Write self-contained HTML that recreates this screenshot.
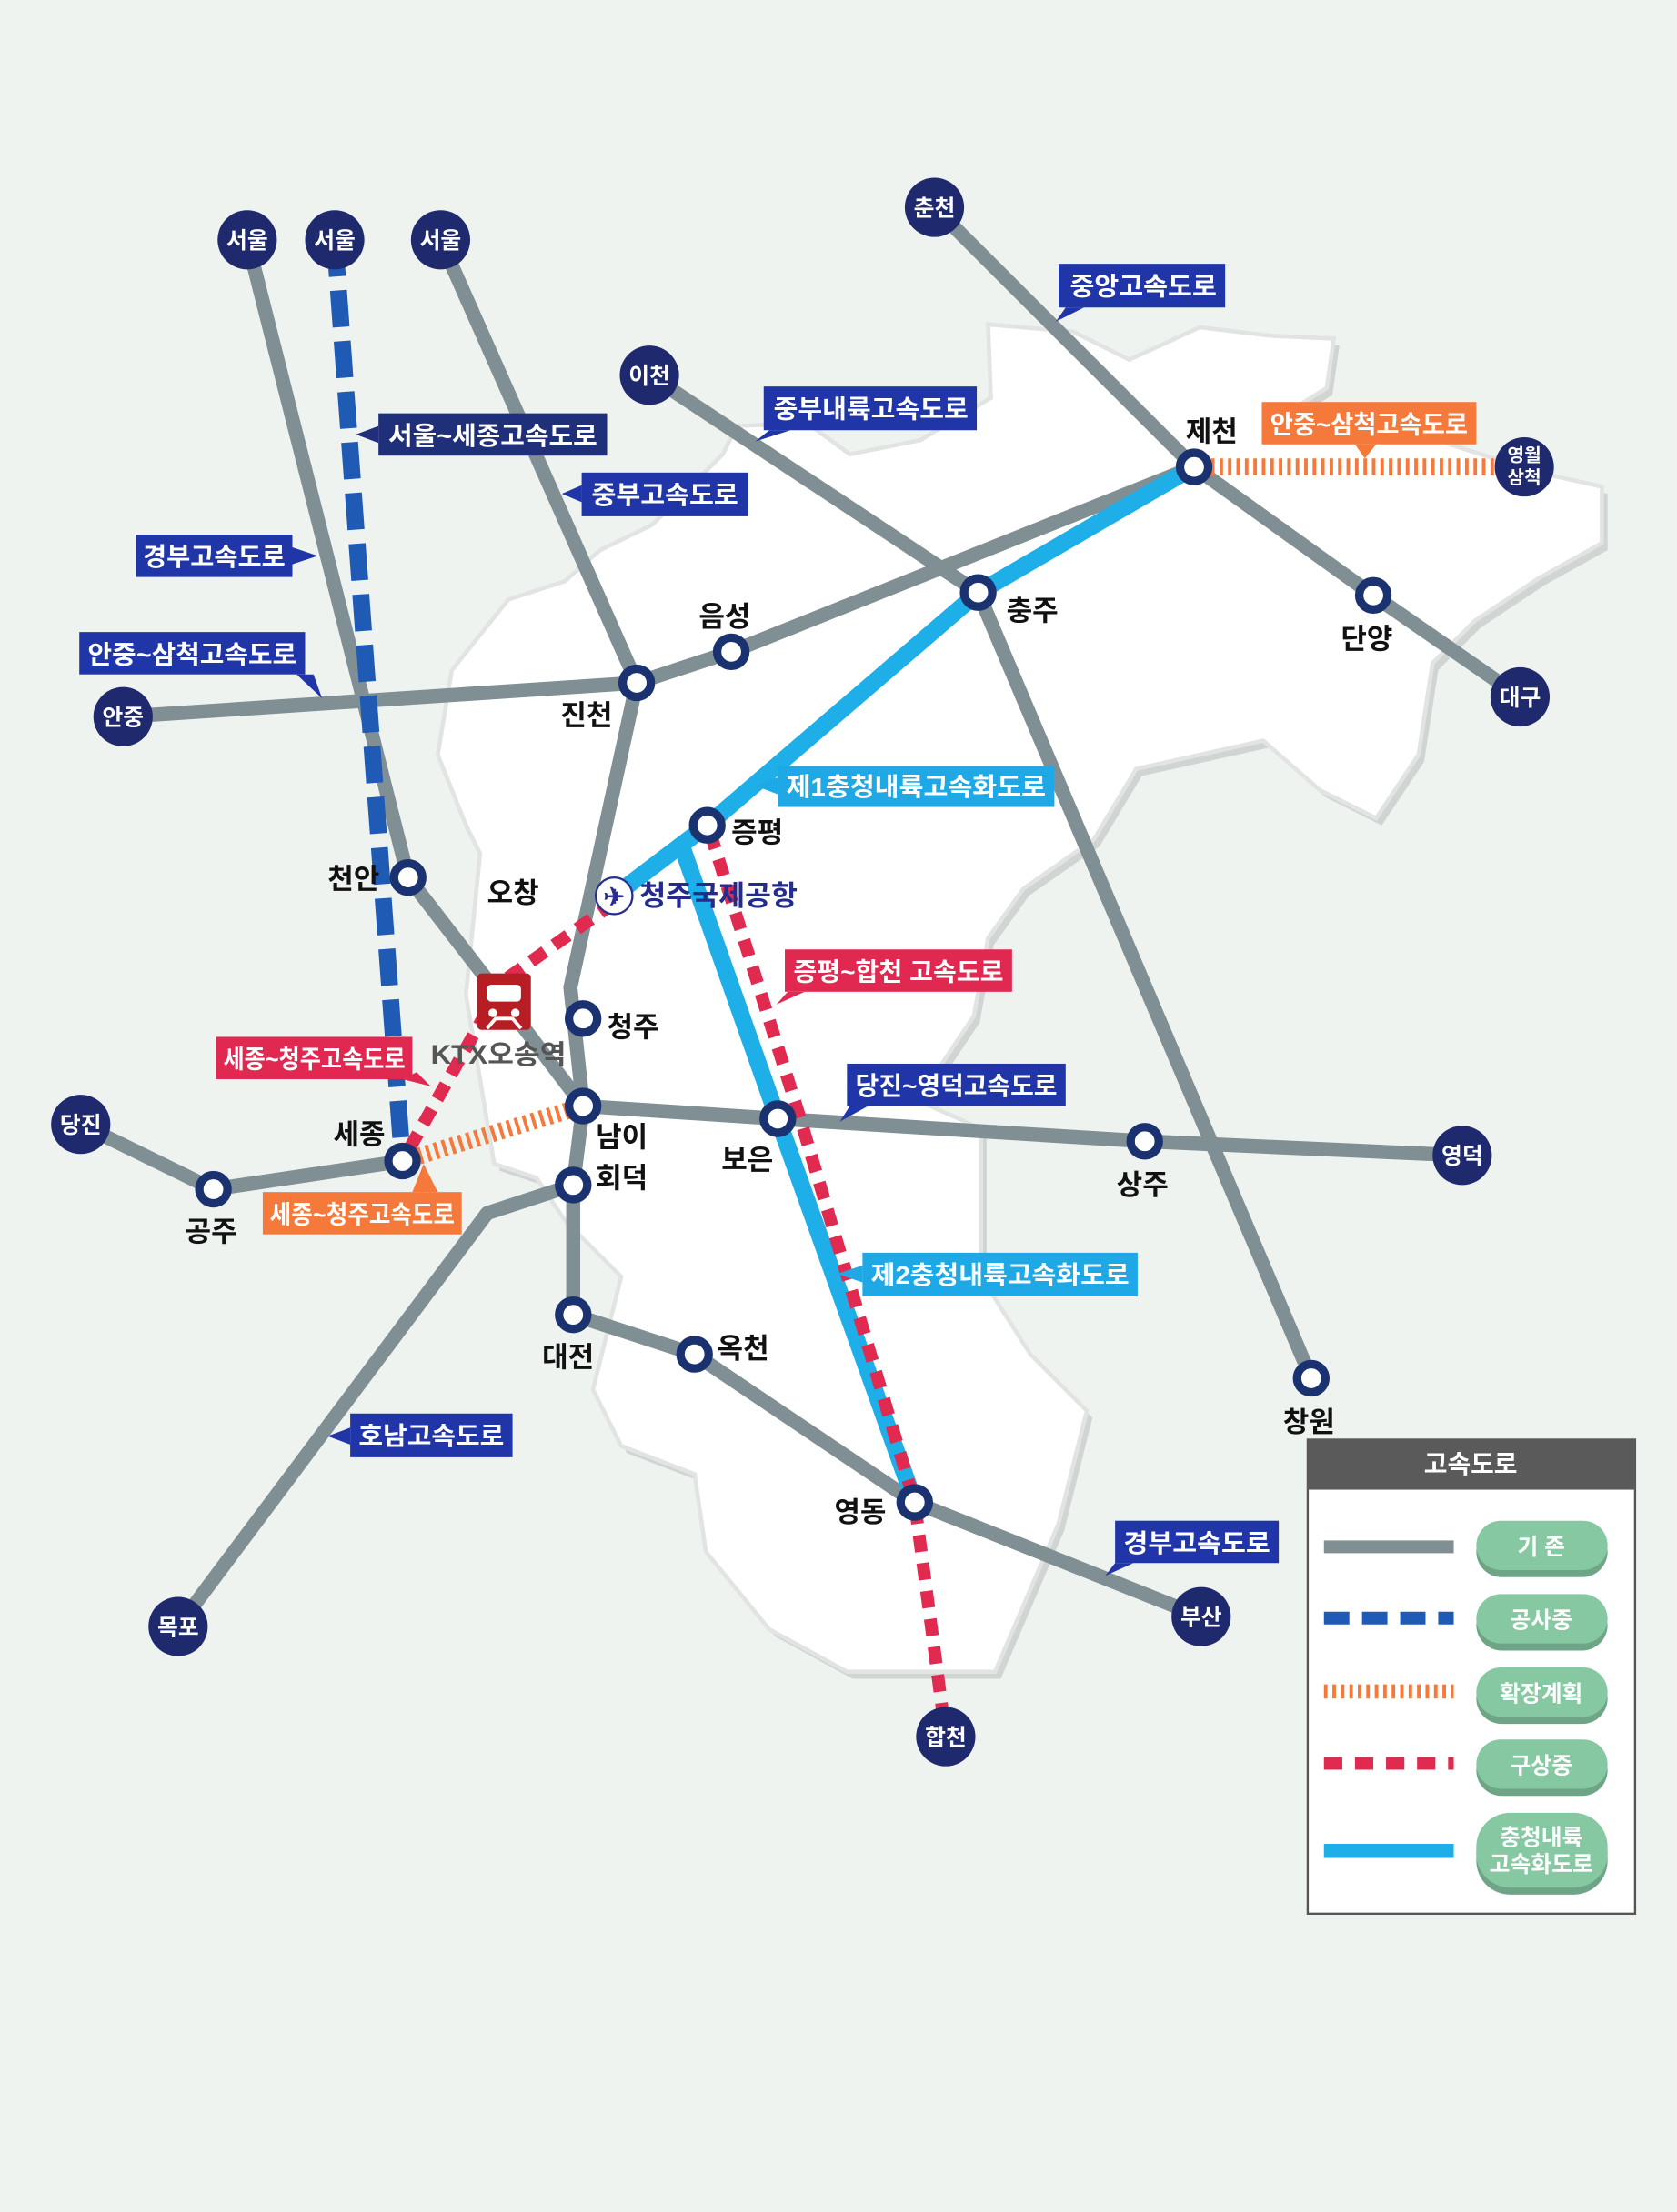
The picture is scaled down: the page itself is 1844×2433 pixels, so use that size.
<!DOCTYPE html>
<html><head><meta charset="utf-8"><style>
html,body{margin:0;padding:0;background:#eef3f0}
svg{display:block}
text{font-family:"Liberation Sans","Noto Sans CJK KR",sans-serif;font-weight:bold}
.lb{font-size:20px;fill:#111}
.bt{font-size:18px;fill:#fff}
.ct{font-size:16px;fill:#fff;text-anchor:middle}
</style></head><body>
<svg width="1844" height="2433" viewBox="0 0 1188 1568" xmlns="http://www.w3.org/2000/svg">
<rect width="1188" height="1568" fill="#eef3f0"/>
<g>
<path d="M700,230 L760,235 L800,255 L850,232 L900,238 L945,240 L940,275 L900,300 L980,300 L1090,335 L1135,345 L1135,385 L1090,410 L1045,440 L1015,470 L1005,535 L975,580 L935,560 L895,525 L805,545 L775,595 L725,630 L700,665 L690,720 L650,780 L695,800 L695,905 L730,960 L770,1000 L750,1080 L705,1185 L600,1185 L545,1155 L500,1100 L492,1045 L440,1025 L420,985 L440,905 L400,865 L380,835 L350,825 L340,765 L330,705 L340,605 L330,585 L310,535 L320,475 L360,425 L400,412 L425,390 L462,372 L512,322 L522,302 L572,300 L602,322 L652,312 L702,282 Z" fill="#d0d4d2" transform="translate(4,5)"/>
<path d="M700,230 L760,235 L800,255 L850,232 L900,238 L945,240 L940,275 L900,300 L980,300 L1090,335 L1135,345 L1135,385 L1090,410 L1045,440 L1015,470 L1005,535 L975,580 L935,560 L895,525 L805,545 L775,595 L725,630 L700,665 L690,720 L650,780 L695,800 L695,905 L730,960 L770,1000 L750,1080 L705,1185 L600,1185 L545,1155 L500,1100 L492,1045 L440,1025 L420,985 L440,905 L400,865 L380,835 L350,825 L340,765 L330,705 L340,605 L330,585 L310,535 L320,475 L360,425 L400,412 L425,390 L462,372 L512,322 L522,302 L572,300 L602,322 L652,312 L702,282 Z" fill="#fff" stroke="#e2e4e3" stroke-width="3"/>
</g>
<g stroke="#7f8f93" stroke-width="10" fill="none" stroke-linecap="round" stroke-linejoin="round">
<path d="M175,170 L289,622 L357,710 L413,784"/>
<path d="M312,170 L451,484"/>
<path d="M451,484 L404,700 L413,784 L406,840 L406,932"/>
<path d="M87,508 L451,484 L518,462 L846,331"/>
<path d="M460,266 L693,420 L929,977"/>
<path d="M662,147 L846,331 L973,422 L1077,494"/>
<path d="M57,797 L151,843 L285,823"/>
<path d="M413,784 L551,793 L811,809 L1036,819"/>
<path d="M126,1153 L345,860 L406,840"/>
<path d="M406,932 L492,960 L648,1065 L851,1146"/>
</g>
<path d="M237,170 L285,823" stroke="#1f5bb5" stroke-width="12" stroke-dasharray="26,10" fill="none"/>
<g stroke="#1eaee8" stroke-width="12" fill="none" stroke-linejoin="round">
<path d="M846,331 L693,420 L501,585 L435,635"/>
<path d="M483,600 L551,793 L648,1065"/>
</g>
<g stroke="#e02a50" stroke-width="9" stroke-dasharray="12,8" fill="none">
<path d="M503,590 L566,790 L648,1065 L670,1230"/>
<path d="M435,640 L357,695 L285,823"/>
</g>
<g stroke="#f5793a" stroke-width="12" stroke-dasharray="2.5,3.5" fill="none">
<path d="M285,823 L413,784"/>
<path d="M846,331 L1080,331"/>
</g>
<g fill="#fff" stroke="#1b3270" stroke-width="6">
<circle cx="846" cy="331" r="10"/><circle cx="693" cy="420" r="10"/><circle cx="973" cy="422" r="10"/>
<circle cx="518" cy="462" r="10"/><circle cx="451" cy="484" r="10"/><circle cx="501" cy="585" r="10"/>
<circle cx="289" cy="622" r="10"/><circle cx="413" cy="722" r="10"/><circle cx="413" cy="784" r="10"/>
<circle cx="406" cy="840" r="10"/><circle cx="551" cy="793" r="10"/><circle cx="811" cy="809" r="10"/>
<circle cx="285" cy="823" r="10"/><circle cx="151" cy="843" r="10"/><circle cx="406" cy="932" r="10"/>
<circle cx="492" cy="960" r="10"/><circle cx="648" cy="1065" r="10"/><circle cx="929" cy="977" r="10"/>
</g>
<g fill="#1f2a6e">
<circle cx="175" cy="170" r="21"/><circle cx="237" cy="170" r="21"/><circle cx="312" cy="170" r="21"/>
<circle cx="662" cy="147" r="21"/><circle cx="460" cy="266" r="21"/><circle cx="1080" cy="331" r="21"/>
<circle cx="1077" cy="494" r="21"/><circle cx="87" cy="508" r="21"/><circle cx="57" cy="797" r="21"/>
<circle cx="1036" cy="819" r="21"/><circle cx="126" cy="1153" r="21"/><circle cx="851" cy="1146" r="21"/>
<circle cx="670" cy="1231" r="21"/>
</g>
<g class="ct">
<text x="175" y="176">서울</text><text x="237" y="176">서울</text><text x="312" y="176">서울</text>
<text x="662" y="153">춘천</text><text x="460" y="272">이천</text>
<text x="1080" y="327" style="font-size:13px">영월</text><text x="1080" y="343" style="font-size:13px">삼척</text>
<text x="1077" y="500">대구</text><text x="87" y="514">안중</text><text x="57" y="803">당진</text>
<text x="1036" y="825">영덕</text><text x="126" y="1159">목포</text><text x="851" y="1152">부산</text><text x="670" y="1237">합천</text>
</g>
<rect x="338" y="690" width="38" height="40" rx="3" fill="#b61e24"/>
<rect x="345" y="698" width="24" height="12" rx="3" fill="#fff"/>
<circle cx="349" cy="718" r="3" fill="#fff"/><circle cx="365" cy="718" r="3" fill="#fff"/>
<path d="M345,729 L351,722 L363,722 L369,729" stroke="#fff" stroke-width="2.5" fill="none"/>
<circle cx="435" cy="635" r="13" fill="#fff" stroke="#2a2f8f" stroke-width="1.5"/>
<text x="435" y="642" style="font-size:18px;fill:#2a2f8f;text-anchor:middle">✈</text>
<g class="lb">
<text x="840" y="313">제천</text><text x="713" y="440">충주</text><text x="950" y="460">단양</text>
<text x="495" y="444">음성</text><text x="397" y="514">진천</text><text x="518" y="597">증평</text>
<text x="345" y="640">오창</text><text x="232" y="630">천안</text><text x="430" y="735">청주</text>
<text x="422" y="813">남이</text><text x="422" y="842">회덕</text><text x="511" y="829">보은</text>
<text x="791" y="847">상주</text><text x="236" y="811">세종</text><text x="131" y="880">공주</text>
<text x="384" y="969">대전</text><text x="508" y="963">옥천</text><text x="591" y="1079">영동</text>
<text x="909" y="1015">창원</text>
<text x="305" y="754" style="fill:#555;font-size:19px" textLength="96" lengthAdjust="spacingAndGlyphs">KTX오송역</text>
<text x="453" y="642" style="fill:#232b8f;font-size:20px" textLength="112" lengthAdjust="spacingAndGlyphs">청주국제공항</text>
</g>
<g>
<path d="M755,218 L748,228 L768,218 Z" fill="#2036a8"/><rect x="750" y="187" width="118" height="31" fill="#2036a8"/><text class="bt" x="758" y="209" textLength="104" lengthAdjust="spacingAndGlyphs">중앙고속도로</text>
<path d="M545,305 L535,313 L560,305 Z" fill="#2036a8"/><rect x="541" y="274" width="151" height="31" fill="#2036a8"/><text class="bt" x="548" y="296" textLength="138" lengthAdjust="spacingAndGlyphs">중부내륙고속도로</text>
<path d="M268,302 L252,308 L268,314 Z" fill="#1f2f7a"/><rect x="268" y="293" width="162" height="30" fill="#1f2f7a"/><text class="bt" x="275" y="315" textLength="148" lengthAdjust="spacingAndGlyphs">서울~세종고속도로</text>
<path d="M412,344 L398,350 L412,356 Z" fill="#2036a8"/><rect x="412" y="335" width="118" height="31" fill="#2036a8"/><text class="bt" x="419" y="357" textLength="104" lengthAdjust="spacingAndGlyphs">중부고속도로</text>
<path d="M207,388 L225,394 L207,400 Z" fill="#2036a8"/><rect x="96" y="379" width="111" height="30" fill="#2036a8"/><text class="bt" x="101" y="401" textLength="101" lengthAdjust="spacingAndGlyphs">경부고속도로</text>
<path d="M210,478 L228,495 L222,478 Z" fill="#2036a8"/><rect x="56" y="448" width="160" height="30" fill="#2036a8"/><text class="bt" x="62" y="470" textLength="148" lengthAdjust="spacingAndGlyphs">안중~삼척고속도로</text>
<path d="M960,315 L967,325 L975,315 Z" fill="#f5793a"/><rect x="894" y="285" width="152" height="30" fill="#f5793a"/><text class="bt" x="900" y="307" textLength="140" lengthAdjust="spacingAndGlyphs">안중~삼척고속도로</text>
<path d="M551,551 L535,557 L551,563 Z" fill="#1ea9e6"/><rect x="551" y="543" width="196" height="29" fill="#1ea9e6"/><text class="bt" x="557" y="564" textLength="184" lengthAdjust="spacingAndGlyphs">제1충청내륙고속화도로</text>
<path d="M558,703 L550,712 L570,703 Z" fill="#e02850"/><rect x="556" y="673" width="161" height="30" fill="#e02850"/><text class="bt" x="562" y="695" textLength="149" lengthAdjust="spacingAndGlyphs">증평~합천 고속도로</text>
<path d="M602,784 L595,795 L615,784 Z" fill="#2036a8"/><rect x="600" y="754" width="155" height="30" fill="#2036a8"/><text class="bt" x="606" y="776" textLength="143" lengthAdjust="spacingAndGlyphs">당진~영덕고속도로</text>
<path d="M285,765 L305,770 L295,760 Z" fill="#e02850"/><rect x="153" y="735" width="139" height="30" fill="#e02850"/><text class="bt" x="158" y="757" textLength="129" lengthAdjust="spacingAndGlyphs">세종~청주고속도로</text>
<path d="M292,845 L300,825 L310,845 Z" fill="#f5793a"/><rect x="186" y="845" width="141" height="30" fill="#f5793a"/><text class="bt" x="191" y="867" textLength="131" lengthAdjust="spacingAndGlyphs">세종~청주고속도로</text>
<path d="M611,897 L593,903 L611,909 Z" fill="#1ea9e6"/><rect x="611" y="888" width="195" height="31" fill="#1ea9e6"/><text class="bt" x="617" y="910" textLength="183" lengthAdjust="spacingAndGlyphs">제2충청내륙고속화도로</text>
<path d="M248,1012 L232,1018 L248,1024 Z" fill="#2036a8"/><rect x="248" y="1002" width="115" height="31" fill="#2036a8"/><text class="bt" x="254" y="1024" textLength="103" lengthAdjust="spacingAndGlyphs">호남고속도로</text>
<path d="M790,1108 L783,1117 L803,1108 Z" fill="#2036a8"/><rect x="790" y="1078" width="116" height="30" fill="#2036a8"/><text class="bt" x="796" y="1100" textLength="104" lengthAdjust="spacingAndGlyphs">경부고속도로</text>
</g>
<g>
<rect x="926.5" y="1020.5" width="232" height="336" fill="#fff" stroke="#555" stroke-width="1.5"/>
<rect x="926" y="1020" width="233" height="36" fill="#5a5a5a"/>
<text x="1042" y="1044" style="font-size:18px;fill:#fff;text-anchor:middle">고속도로</text>
<rect x="938" y="1092" width="92" height="9" fill="#7f8f93"/>
<path d="M938,1147 L1030,1147" stroke="#1f5bb5" stroke-width="9" stroke-dasharray="18,9"/>
<path d="M938,1199 L1030,1199" stroke="#f5793a" stroke-width="10" stroke-dasharray="2.5,3.5"/>
<path d="M938,1250 L1030,1250" stroke="#e02a50" stroke-width="9" stroke-dasharray="13,9"/>
<rect x="938" y="1307" width="92" height="10" fill="#1eaee8"/>
<g fill="#6fa587">
<rect x="1046" y="1082" width="93" height="36" rx="18"/><rect x="1046" y="1134" width="93" height="36" rx="18"/>
<rect x="1046" y="1186" width="93" height="36" rx="18"/><rect x="1046" y="1237" width="93" height="36" rx="18"/>
<rect x="1046" y="1289" width="93" height="54" rx="24"/>
</g>
<g fill="#86c8a1">
<rect x="1046" y="1078" width="93" height="35" rx="17.5"/><rect x="1046" y="1130" width="93" height="35" rx="17.5"/>
<rect x="1046" y="1182" width="93" height="35" rx="17.5"/><rect x="1046" y="1233" width="93" height="35" rx="17.5"/>
<rect x="1046" y="1285" width="93" height="53" rx="24"/>
</g>
<g style="font-size:16px;fill:#fff;text-anchor:middle">
<text x="1092" y="1102">기 존</text><text x="1092" y="1154">공사중</text><text x="1092" y="1206">확장계획</text>
<text x="1092" y="1257">구상중</text><text x="1092" y="1308">충청내륙</text><text x="1092" y="1327">고속화도로</text>
</g>
</g>
</svg>
</body></html>
